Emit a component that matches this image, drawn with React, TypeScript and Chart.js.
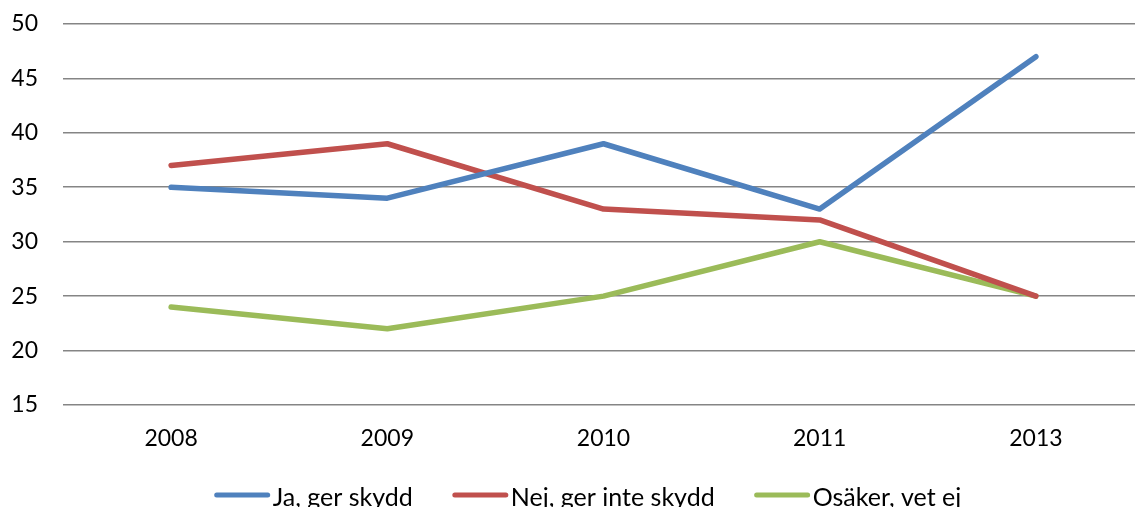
import React, { useEffect, useRef } from "react";
import { Chart, registerables } from "chart.js";

Chart.register(...registerables);

const categories = ["2008", "2009", "2010", "2011", "2013"];
const jaValues = [35, 34, 39, 33, 47];
const nejValues = [37, 39, 33, 32, 25];
const osakerValues = [24, 22, 25, 30, 25];
const seriesNames = ["Ja, ger skydd", "Nej, ger inte skydd", "Osäker, vet ej"];
const seriesColors = ["#4F81BD", "#C0504D", "#9BBB59"];

const FONT_FAMILY = "Lato, 'Liberation Sans', sans-serif";
const FONT_SIZE = 23;
const LEGEND_FONT_SIZE = 25;

const legendPlugin = {
  id: "customLegend",
  afterDraw(chart: any) {
    const ctx = chart.ctx;
    ctx.save();
    ctx.font = `${LEGEND_FONT_SIZE}px ${FONT_FAMILY}`;
    const lineLen = 55;
    const gap = 3;
    const itemGap = 40;
    const items = chart.data.datasets.map((d: any) => ({
      label: d.label,
      color: d.borderColor,
      w: ctx.measureText(d.label).width,
    }));
    const total =
      items.reduce((s: number, it: any) => s + lineLen + gap + it.w, 0) +
      itemGap * (items.length - 1);
    let x = 588 - total / 2;
    const y = 495;
    for (const it of items) {
      ctx.strokeStyle = it.color;
      ctx.lineWidth = 5;
      ctx.lineCap = "round";
      ctx.beginPath();
      ctx.moveTo(x + 2, y);
      ctx.lineTo(x + lineLen - 2, y);
      ctx.stroke();
      ctx.fillStyle = "#000";
      ctx.textBaseline = "middle";
      ctx.textAlign = "left";
      ctx.fillText(it.label, x + lineLen + gap, y + 3);
      x += lineLen + gap + it.w + itemGap;
    }
    ctx.restore();
  },
};

export default function App() {
  const canvasRef = useRef<HTMLCanvasElement | null>(null);

  useEffect(() => {
    if (!canvasRef.current) return;
    const values = [jaValues, nejValues, osakerValues];
    const chart = new Chart(canvasRef.current, {
      type: "line",
      data: {
        labels: categories,
        datasets: values.map((v, i) => ({
          label: seriesNames[i],
          data: v,
          borderColor: seriesColors[i],
          backgroundColor: seriesColors[i],
          borderWidth: 5.5,
          pointRadius: 0,
          pointHoverRadius: 0,
          tension: 0,
          borderCapStyle: "round" as const,
          borderJoinStyle: "round" as const,
          fill: false,
        })),
      },
      options: {
        responsive: false,
        animation: false,
        layout: { padding: { top: 24, right: 0, bottom: 0, left: 0 } },
        plugins: {
          legend: { display: false },
          tooltip: { enabled: false },
        },
        scales: {
          x: {
            offset: true,
            grid: { display: false, drawTicks: false },
            border: { display: false },
            ticks: {
              color: "#000",
              padding: 20,
              font: { family: FONT_FAMILY, size: FONT_SIZE },
              maxRotation: 0,
            },
            afterFit(scale: any) {
              scale.height = 102;
              scale.paddingLeft = 0;
              scale.paddingRight = 0;
              scale.paddingTop = 0;
              scale.paddingBottom = 0;
            },
          },
          y: {
            min: 15,
            max: 50,
            ticks: {
              stepSize: 5,
              color: "#000",
              padding: 25,
              font: { family: FONT_FAMILY, size: FONT_SIZE },
            },
            grid: { color: "#858585", lineWidth: 1.6, drawTicks: false },
            border: { display: false },
            afterFit(scale: any) {
              scale.width = 63;
              scale.paddingTop = 0;
              scale.paddingBottom = 0;
              scale.paddingLeft = 0;
              scale.paddingRight = 0;
            },
          },
        },
      },
      plugins: [legendPlugin],
    });
    return () => chart.destroy();
  }, []);

  return (
    <div style={{ position: "absolute", left: 0, top: 0, width: 1135, height: 507, overflow: "hidden", background: "#fff" }}>
      <canvas ref={canvasRef} width={1144} height={507} style={{ display: "block" }} />
    </div>
  );
}
